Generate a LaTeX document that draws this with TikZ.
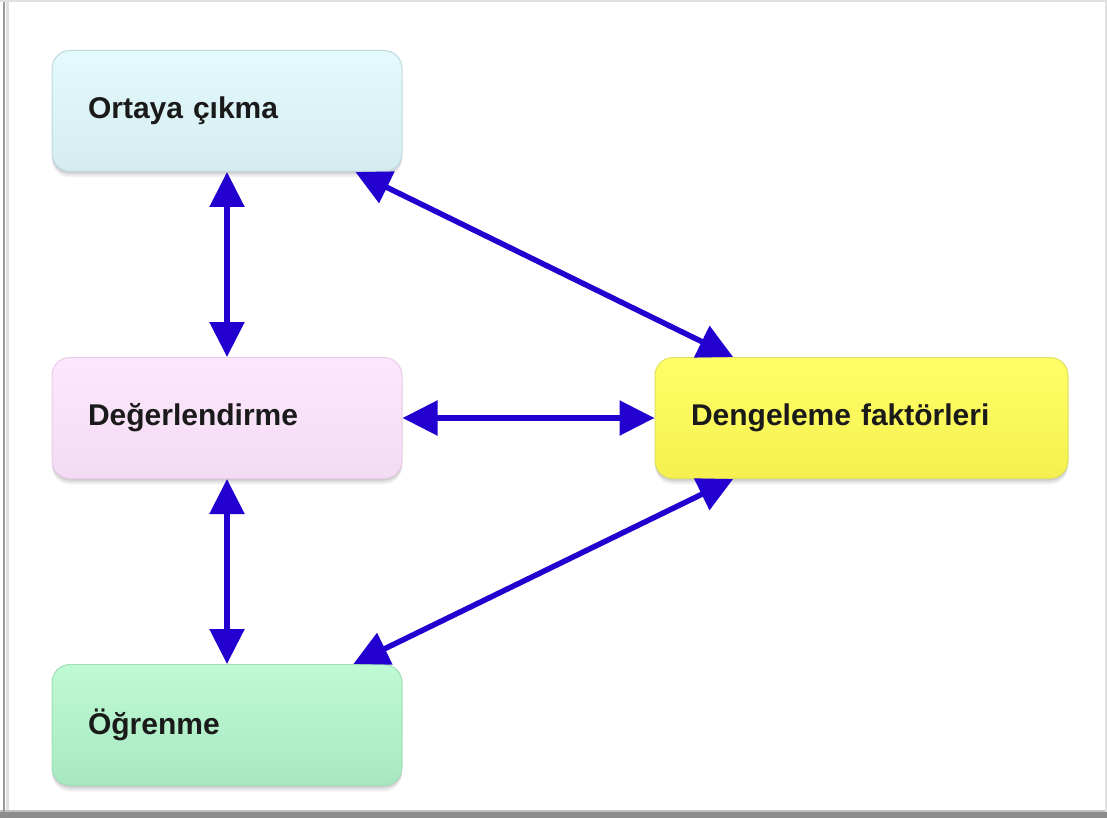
\documentclass[tikz,border=0pt]{standalone}
\usepackage{fontspec}
\setmainfont{Liberation Sans}
\usetikzlibrary{arrows.meta,calc,shadows}
\definecolor{arrowblue}{HTML}{2300D0}
\definecolor{inktext}{HTML}{1A1A1A}
\tikzset{
  softshadow/.style={
    drop shadow={shadow xshift=0pt, shadow yshift=-2pt, opacity=0.08, fill=black},
    drop shadow={shadow xshift=0pt, shadow yshift=-4pt, opacity=0.07, fill=black},
    drop shadow={shadow xshift=0pt, shadow yshift=-6pt, opacity=0.05, fill=black}},
  box/.style={rectangle, rounded corners=18pt, line width=1pt,
    minimum height=121pt, inner xsep=36pt, inner ysep=0pt,
    align=left, text=inktext, font=\fontsize{30}{35}\selectfont\bfseries,
    softshadow},
  narrowbox/.style={box, text width=278pt},
  widebox/.style={box, text width=341pt},
  link/.style={arrowblue, line width=5.5pt,
    {Triangle[length=35pt,width=34pt]}-{Triangle[length=35pt,width=34pt]}}
}
\begin{document}
\begin{tikzpicture}[x=1pt,y=-1pt]
  \useasboundingbox (0,0) rectangle (1107,818);
  % page frame
  \fill[white] (0,0) rectangle (1107,818);
  \fill[black!45] (0,812) rectangle (1107,818);
  \fill[black!25] (0,810) rectangle (1107,812);
  \draw[black!12, line width=2pt] (0,1) -- (1107,1);
  \draw[black!12, line width=2pt] (1106,0) -- (1106,812);
  \draw[black!40, line width=2pt] (4,2) -- (4,812);
  \draw[black!12, line width=3pt] (7,2) -- (7,810);

  % boxes
  \node[narrowbox, draw={rgb,255:red,190;green,218;blue,224}, top color={rgb,255:red,228;green,250;blue,253}, bottom color={rgb,255:red,212;green,236;blue,240}]
    (ort) at (227,111) {Ortaya çıkma};
  \node[narrowbox, draw={rgb,255:red,232;green,204;blue,232}, top color={rgb,255:red,252;green,231;blue,252}, bottom color={rgb,255:red,243;green,220;blue,243}]
    (deg) at (227,418) {Değerlendirme};
  \node[narrowbox, draw={rgb,255:red,160;green,222;blue,184}, top color={rgb,255:red,190;green,250;blue,212}, bottom color={rgb,255:red,168;green,232;blue,192}]
    (ogr) at (227,725) {Öğrenme};
  \node[widebox, draw={rgb,255:red,222;green,222;blue,96}, top color={rgb,255:red,255;green,255;blue,102}, bottom color={rgb,255:red,245;green,240;blue,80}]
    (den) at (861.5,418) {Dengeleme faktörleri};

  % connectors
  \draw[link] (ort.south) -- (deg.north);
  \draw[link] (deg.south) -- (ogr.north);
  \draw[link] (deg.east) -- (den.west);
  \draw[link] ($(ort.south west)!0.866!(ort.south east)$) -- ($(den.north west)!0.19!(den.north east)$);
  \draw[link] ($(den.south west)!0.19!(den.south east)$) -- ($(ogr.north west)!0.86!(ogr.north east)$);
\end{tikzpicture}
\end{document}
